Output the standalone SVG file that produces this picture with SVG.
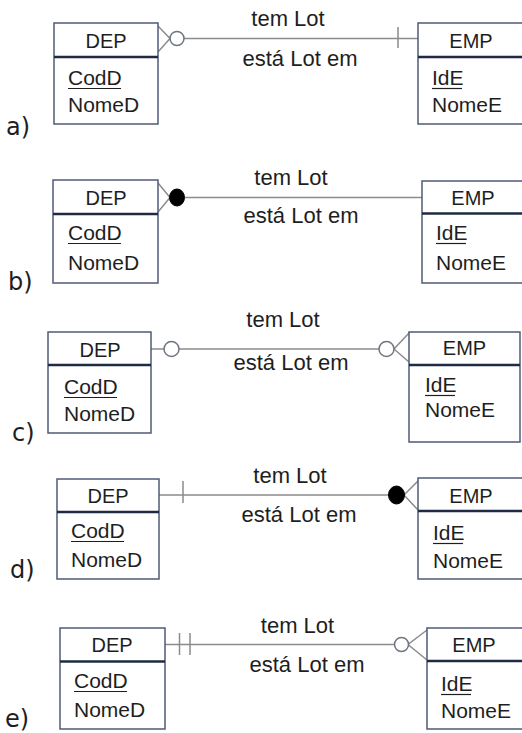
<svg xmlns="http://www.w3.org/2000/svg" width="522" height="733" viewBox="0 0 522 733">
<style>
text{font-family:"Liberation Sans",Arial,sans-serif;fill:#1e1e1e}
.box{fill:#fff;stroke:#4f5b75;stroke-width:1.5}
.div{stroke:#1f2a44;stroke-width:2.5}
.hd{font-size:20px;text-anchor:middle}
.at{font-size:21px}
.ul{stroke:#1e1e1e;stroke-width:1.2}
.lb{font-size:22px;text-anchor:middle}
.sec{font-family:"DejaVu Sans",sans-serif;font-size:24px}
.ln{stroke:#8c8c8c;stroke-width:1.5;fill:none}
.oc{fill:#fff;stroke:#6e7580;stroke-width:1.5}
.fc{fill:#000;stroke:#000;stroke-width:1}
</style>
<rect width="522" height="733" fill="#fff"/>

<g id="connectors">
  <!-- a -->
  <path class="ln" d="M184,38.5 H418 M398,27 V48 M158,26 L170,38.5 L158,52"/>
  <circle class="oc" cx="177" cy="38.5" r="7"/>
  <!-- b -->
  <path class="ln" d="M185,197.5 H422 M158,183 L170,197.5 L158,212"/>
  <ellipse class="fc" cx="177" cy="197.5" rx="7.5" ry="8.5"/>
  <!-- c -->
  <path class="ln" d="M151,349 H164 M179,349 H379 M409,333 L394,349 L409,362"/>
  <circle class="oc" cx="171.5" cy="349" r="7.5"/>
  <circle class="oc" cx="386.5" cy="349" r="7.5"/>
  <!-- d -->
  <path class="ln" d="M159,495 H389 M183,481 V503 M418,481 L404,495 L418,510"/>
  <ellipse class="fc" cx="396.5" cy="495" rx="8" ry="9"/>
  <!-- e -->
  <path class="ln" d="M165,644.5 H395 M179.5,633 V655 M190,633 V655 M427,630 L408,644.5 L427,660"/>
  <circle class="oc" cx="401.5" cy="644.5" r="7"/>
</g>

<g id="labels">
  <text class="lb" x="288" y="26">tem Lot</text>
  <text class="lb" x="300" y="66">está Lot em</text>
  <text class="lb" x="291" y="185">tem Lot</text>
  <text class="lb" x="301" y="223">está Lot em</text>
  <text class="lb" x="283" y="327">tem Lot</text>
  <text class="lb" x="291" y="370">está Lot em</text>
  <text class="lb" x="290" y="483">tem Lot</text>
  <text class="lb" x="299" y="522">está Lot em</text>
  <text class="lb" x="297.5" y="633">tem Lot</text>
  <text class="lb" x="307" y="672">está Lot em</text>
</g>

<g id="sections">
  <text class="sec" x="6" y="135">a)</text>
  <text class="sec" x="8" y="290">b)</text>
  <text class="sec" x="12" y="441">c)</text>
  <text class="sec" x="10" y="578">d)</text>
  <text class="sec" x="5" y="727">e)</text>
</g>

<g id="dep-a">
  <rect class="box" x="54" y="23" width="104" height="101"/>
  <line class="div" x1="54" y1="57" x2="158" y2="57"/>
  <text class="hd" x="106" y="48">DEP</text>
  <text class="at" x="68" y="85">CodD</text>
  <line class="ul" x1="68" y1="88.5" x2="121" y2="88.5"/>
  <text class="at" x="68" y="112">NomeD</text>
</g>
<g id="emp-a">
  <rect class="box" x="418" y="23" width="106" height="101"/>
  <line class="div" x1="418" y1="57" x2="524" y2="57"/>
  <text class="hd" x="471" y="48">EMP</text>
  <text class="at" x="432" y="85">IdE</text>
  <line class="ul" x1="432" y1="88.5" x2="462" y2="88.5"/>
  <text class="at" x="432" y="112">NomeE</text>
</g>

<g id="dep-b">
  <rect class="box" x="53" y="180" width="105" height="103"/>
  <line class="div" x1="53" y1="214" x2="158" y2="214"/>
  <text class="hd" x="106" y="205">DEP</text>
  <text class="at" x="68" y="240">CodD</text>
  <line class="ul" x1="68" y1="243.5" x2="121" y2="243.5"/>
  <text class="at" x="68" y="270">NomeD</text>
</g>
<g id="emp-b">
  <rect class="box" x="422" y="181" width="104" height="102"/>
  <line class="div" x1="422" y1="213.5" x2="526" y2="213.5"/>
  <text class="hd" x="473" y="205">EMP</text>
  <text class="at" x="436" y="240">IdE</text>
  <line class="ul" x1="436" y1="243.5" x2="466" y2="243.5"/>
  <text class="at" x="436" y="270">NomeE</text>
</g>

<g id="dep-c">
  <rect class="box" x="48" y="332" width="103" height="101"/>
  <line class="div" x1="48" y1="365" x2="151" y2="365"/>
  <text class="hd" x="100" y="357">DEP</text>
  <text class="at" x="64" y="394">CodD</text>
  <line class="ul" x1="64" y1="397.5" x2="117" y2="397.5"/>
  <text class="at" x="64" y="421">NomeD</text>
</g>
<g id="emp-c">
  <rect class="box" x="409" y="332" width="111" height="110"/>
  <line class="div" x1="409" y1="365" x2="520" y2="365"/>
  <text class="hd" x="464.5" y="355">EMP</text>
  <text class="at" x="425" y="392">IdE</text>
  <line class="ul" x1="425" y1="395.5" x2="455" y2="395.5"/>
  <text class="at" x="425" y="417">NomeE</text>
</g>

<g id="dep-d">
  <rect class="box" x="57" y="479" width="102" height="100"/>
  <line class="div" x1="57" y1="512" x2="159" y2="512"/>
  <text class="hd" x="108" y="503">DEP</text>
  <text class="at" x="71" y="538">CodD</text>
  <line class="ul" x1="71" y1="541.5" x2="124" y2="541.5"/>
  <text class="at" x="71" y="567">NomeD</text>
</g>
<g id="emp-d">
  <rect class="box" x="418" y="478" width="106" height="101"/>
  <line class="div" x1="418" y1="511" x2="524" y2="511"/>
  <text class="hd" x="471" y="503">EMP</text>
  <text class="at" x="433" y="540">IdE</text>
  <line class="ul" x1="433" y1="543.5" x2="463" y2="543.5"/>
  <text class="at" x="433" y="568">NomeE</text>
</g>

<g id="dep-e">
  <rect class="box" x="60" y="628" width="105" height="101"/>
  <line class="div" x1="60" y1="661.5" x2="165" y2="661.5"/>
  <text class="hd" x="112" y="652">DEP</text>
  <text class="at" x="74" y="688">CodD</text>
  <line class="ul" x1="74" y1="691.5" x2="127" y2="691.5"/>
  <text class="at" x="74" y="717">NomeD</text>
</g>
<g id="emp-e">
  <rect class="box" x="427" y="628" width="97" height="101"/>
  <line class="div" x1="427" y1="661" x2="524" y2="661"/>
  <text class="hd" x="474" y="652">EMP</text>
  <text class="at" x="441" y="691">IdE</text>
  <line class="ul" x1="441" y1="694.5" x2="471" y2="694.5"/>
  <text class="at" x="441" y="718">NomeE</text>
</g>
</svg>
